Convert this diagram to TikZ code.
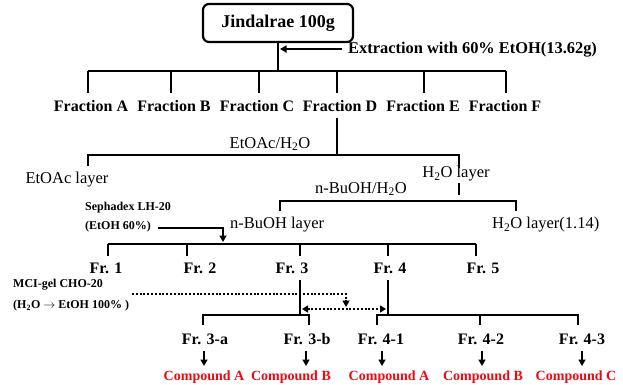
\documentclass[tikz,border=0pt]{standalone}
\usepackage{fontspec}
\setmainfont{Liberation Serif}
\usetikzlibrary{arrows.meta}
\definecolor{cred}{RGB}{235,10,20}
\begin{document}
\begin{tikzpicture}[x=1pt,y=-1pt,
  ln/.style={line width=2.5pt},
  lb/.style={font=\fontsize{16}{18}\selectfont\bfseries, inner sep=0pt},
  lr/.style={font=\fontsize{16.5}{18}\selectfont, inner sep=0pt},
  sm/.style={font=\fontsize{12}{14}\selectfont\bfseries, inner sep=0pt, anchor=west},
  cp/.style={font=\fontsize{14}{16}\selectfont\bfseries, text=cred, inner sep=0pt},
  tip/.style={-{Triangle[width=7pt,length=6.5pt]}},
  dtip/.style={{Triangle[width=7pt,length=6pt]}-{Triangle[width=7pt,length=6pt]}},
  dot/.style={line width=2pt, dash pattern=on 2pt off 1.8pt}
]
\useasboundingbox (0,0) rectangle (623,384);
% root
\node[draw, line width=2.2pt, rounded corners=6pt, minimum width=150pt, minimum height=38pt,
      font=\fontsize{18}{20}\selectfont\bfseries] (root) at (278,23) {Jindalrae 100g};
\node[lb, font=\fontsize{16.4}{18}\selectfont\bfseries, anchor=west] (ext) at (348,50) {Extraction with 60\% EtOH(13.62g)};
\coordinate (top) at (278,71);
\coordinate (exth) at (280,49);
\draw[ln] (root.south) -- (top);
\draw[ln, tip] (342,49) -- (exth);
% fractions
\coordinate (vA) at (88,71);  \coordinate (vB) at (171,71);
\coordinate (vC) at (259,71); \coordinate (vD) at (337,71);
\coordinate (vE) at (424,71); \coordinate (vF) at (506,71);
\draw[ln] (vA) -- (vF);
\foreach \v in {vA,vB,vC,vD,vE,vF} \draw[ln] (\v) -- ++(0,22);
\node[lb] (fA) at (91,106) {Fraction A};
\node[lb] (fB) at (174,106) {Fraction B};
\node[lb] (fC) at (257,106) {Fraction C};
\node[lb] (fD) at (340,106) {Fraction D};
\node[lb] (fE) at (423,106) {Fraction E};
\node[lb] (fF) at (505,106) {Fraction F};
% EtOAc / H2O partition
\coordinate (dtop) at (337,118);
\coordinate (p1) at (337,155);
\coordinate (pL) at (88,155);
\coordinate (pR) at (459,155);
\draw[ln] (dtop) -- (p1);
\draw[ln] (pL) ++(0,11) -- (pL) -- (pR) -- ++(0,13);
\node[lr] (eoh) at (270,144) {EtOAc/H\textsubscript{2}O};
\node[lr] (eal) at (67,180) {EtOAc layer};
\node[lr] (hl) at (456,174) {H\textsubscript{2}O layer};
% n-BuOH partition
\coordinate (h1) at (459,183);
\coordinate (h2) at (459,195);
\draw[ln] (h1) -- (h2);
\coordinate (bL) at (280,201);
\coordinate (bR) at (516,201);
\draw[ln] (bL) ++(0,10) -- (bL) -- (bR) -- ++(0,10);
\node[lr] (bwh) at (361,189) {n-BuOH/H\textsubscript{2}O};
\node[lr, anchor=west] (bul) at (230,225) {n-BuOH layer};
\node[lr, anchor=west] (hl2) at (492,225) {H\textsubscript{2}O layer(1.14)};
% Sephadex
\node[sm] (seph) at (85,208) {Sephadex LH-20};
\node[sm] (seph2) at (85,227) {(EtOH 60\%)};
\coordinate (sa) at (158,228);
\coordinate (sc) at (223,228);
\coordinate (sd) at (223,242);
\draw[ln, tip] (sa) -- (sc) -- (sd);
% Fr. 1-5
\coordinate (r1) at (108,244); \coordinate (r2) at (187,244);
\coordinate (r3) at (300,244); \coordinate (r4) at (388,244);
\coordinate (r5) at (476,244);
\draw[ln] (r1) -- (r5);
\foreach \v in {r1,r2,r3,r4,r5} \draw[ln] (\v) -- ++(0,12);
\node[lb] (fr1) at (106,268) {Fr. 1};
\node[lb] (fr2) at (200,268) {Fr. 2};
\node[lb] (fr3) at (292,268) {Fr. 3};
\node[lb] (fr4) at (390,268) {Fr. 4};
\node[lb] (fr5) at (483,268) {Fr. 5};
% MCI
\node[sm] (mci) at (13,285) {MCI-gel CHO-20};
\node[sm] (mci2) at (13,306) {(H\textsubscript{2}O $\rightarrow$ EtOH 100\% )};
% sub trees
\coordinate (s3t) at (300,280); \coordinate (s3) at (300,315);
\coordinate (s4t) at (388,280); \coordinate (s4) at (388,315);
\draw[ln] (s3t) -- (s3);
\draw[ln] (s4t) -- (s4);
\coordinate (a3) at (203,315); \coordinate (b3) at (309,315);
\coordinate (a4) at (377,315); \coordinate (m4) at (480,315); \coordinate (c4) at (578,315);
\draw[ln] (a3) ++(0,10) -- (a3) -- (b3) -- ++(0,10);
\draw[ln] (a4) ++(0,10) -- (a4) -- (c4) -- ++(0,10);
\draw[ln] (m4) -- ++(0,10);
% dotted arrows
\coordinate (d1) at (132,294); \coordinate (d2) at (346,294); \coordinate (d3) at (346,307);
\draw[dot, tip] (d1) -- (d2) -- (d3);
\coordinate (e1) at (302,309); \coordinate (e2) at (386,309);
\draw[dot, dtip] (e1) -- (e2);
% sub labels
\node[lb] (f3a) at (205,339) {Fr. 3-a};
\node[lb] (f3b) at (307,339) {Fr. 3-b};
\node[lb] (f41) at (381,339) {Fr. 4-1};
\node[lb] (f42) at (481,339) {Fr. 4-2};
\node[lb] (f43) at (582,339) {Fr. 4-3};
% compounds
\node[cp] (c1) at (204,377) {Compound A};
\node[cp] (c2) at (291,377) {Compound B};
\node[cp] (c3) at (389,377) {Compound A};
\node[cp] (c4n) at (483,377) {Compound B};
\node[cp] (c5) at (576,377) {Compound C};
\foreach \x/\n in {204/c1,306/c2,382/c3,482/c4n,582/c5}
  \draw[ln, tip] (\x,351) -- (\x,366);
\end{tikzpicture}
\end{document}
